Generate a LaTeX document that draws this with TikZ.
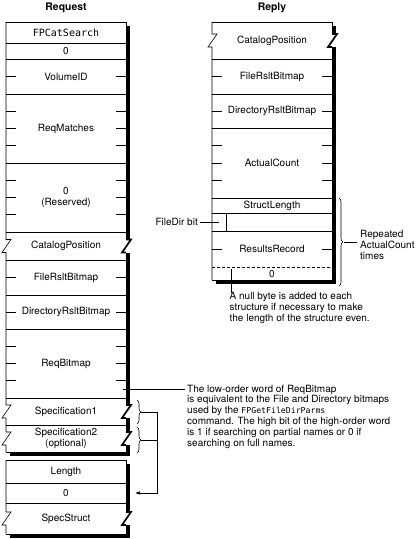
\documentclass[tikz,border=0pt]{standalone}
\usepackage{fontspec}
\setmainfont{TeX Gyre Heros}
\setmonofont{DejaVu Sans Mono}
\usetikzlibrary{decorations.pathreplacing,arrows.meta}
\begin{document}
\begin{tikzpicture}[x=1pt,y=-1pt,
  lbl/.style={inner sep=0pt, font=\fontsize{10}{12}\selectfont, align=center},
  two/.style={inner sep=0pt, font=\fontsize{10}{11.5}\selectfont, align=center},
  ttl/.style={inner sep=0pt, font=\fontsize{10.4}{12}\selectfont\bfseries},
  ann/.style={inner sep=0pt, font=\fontsize{10}{10.8}\selectfont, align=left},
  bx/.style={line width=0.6pt},
  shd/.style={fill=black},
  zz/.style={line width=1.7pt, line join=miter},
  tk/.style={line width=0.6pt},
  lead/.style={line width=0.6pt},
  brc/.style={line width=0.6pt, decorate, decoration={brace, amplitude=4pt}},
]
\useasboundingbox (0,0) rectangle (419,539);
\newcommand\mytick[3]{\draw[tk] (#1,#3) -- ++(10,0); \draw[tk] (#2,#3) -- ++(-10,0);}

% ---------- titles
\node[ttl] (treq) at (66,8) {Request};
\node[ttl] (trep) at (272,8) {Reply};

% ---------- left main box
\fill[shd] (126,26) rectangle (130,239.5);
\fill[shd] (126,252.5) rectangle (130,405);
\fill[shd] (126,418) rectangle (130,432);
\fill[shd] (126,445) rectangle (130,455.5);
\fill[shd] (10,452) rectangle (130,455.5);
\draw[bx] (6,22) -- (6,239.5) -- (11,239.5) -- (2,252.5) -- (6,252.5) -- (6,405) -- (11,405) -- (2,418) -- (6,418)
  -- (6,432) -- (11,432) -- (2,445) -- (6,445) -- (6,452);
\draw[bx] (126,22) -- (126,239.5);
\draw[bx] (126,252.5) -- (126,405);
\draw[bx] (126,418) -- (126,432);
\draw[bx] (126,445) -- (126,452);
\draw[zz] (126,239.5) -- (131,239.5) -- (122,252.5) -- (126,252.5);
\draw[zz] (126,405) -- (131,405) -- (122,418) -- (126,418);
\draw[zz] (126,432) -- (131,432) -- (122,445) -- (126,445);
\foreach \yy in {22,43,59,94,163,232,260,295,329,398,425,452} \draw[bx] (6,\yy) -- (126,\yy);
\foreach \yy in {76.5,111.25,128.5,145.75,180.25,197.5,214.75,277.5,312,346.25,363.5,380.75} {\mytick{6}{126}{\yy}}

\node[lbl, font=\fontsize{10}{12}\ttfamily] (cmd) at (66,32.5) {FPCatSearch};
\node[lbl] (pad) at (66,51.5) {0};
\node[lbl] (vol) at (66,76.5) {VolumeID};
\node[lbl] (rqm) at (66,128.5) {ReqMatches};
\node[two] (rsv) at (66,197.5) {0\\(Reserved)};
\node[lbl] (catq) at (66,246) {CatalogPosition};
\node[lbl] (frbq) at (66,277.5) {FileRsltBitmap};
\node[lbl] (drbq) at (66,312) {DirectoryRsltBitmap};
\node[lbl] (rqb) at (66,363.5) {ReqBitmap};
\node[lbl] (sp1) at (66,411.5) {Specification1};
\node[two] (sp2) at (66,438.5) {Specification2\\(optional)};

% ---------- lower left box
\fill[shd] (126,464) rectangle (130,512);
\fill[shd] (126,525) rectangle (130,537.5);
\fill[shd] (10,534) rectangle (130,537.5);
\draw[bx] (6,460) -- (6,512) -- (11,512) -- (2,525) -- (6,525) -- (6,534);
\draw[bx] (126,460) -- (126,512);
\draw[bx] (126,525) -- (126,534);
\draw[zz] (126,512) -- (131,512) -- (122,525) -- (126,525);
\foreach \yy in {460,483,503,534} \draw[bx] (6,\yy) -- (126,\yy);
\node[lbl] (len) at (66,471.5) {Length};
\node[lbl] (zr) at (66,493) {0};
\node[lbl] (ss) at (66,518.5) {SpecStruct};

% ---------- right box
\fill[shd] (332,26) rectangle (336,34);
\fill[shd] (332,47) rectangle (336,283.5);
\fill[shd] (216,280) rectangle (336,283.5);
\draw[bx] (212,22) -- (212,34) -- (217,34) -- (208,47) -- (212,47) -- (212,280);
\draw[bx] (332,22) -- (332,34);
\draw[bx] (332,47) -- (332,280);
\draw[zz] (332,34) -- (337,34) -- (328,47) -- (332,47);
\foreach \yy in {22,59,94,128,213,231,280} \draw[bx] (212,\yy) -- (332,\yy);
\draw[line width=1pt] (212,198) -- (332,198);
\draw[bx, dash pattern=on 3pt off 2pt] (212,267) -- (332,267);
\draw[bx] (226,213) -- (226,231);
\foreach \yy in {76.5,111,145.5,163,180.5,249} {\mytick{212}{332}{\yy}}

\node[lbl] (catp) at (272,40.5) {CatalogPosition};
\node[lbl] (frbp) at (272,76.5) {FileRsltBitmap};
\node[lbl] (drbp) at (272,111) {DirectoryRsltBitmap};
\node[lbl] (acnt) at (272,163) {ActualCount};
\node[lbl] (slen) at (272,205.5) {StructLength};
\node[lbl] (rrec) at (272,249) {ResultsRecord};
\node[lbl] (nul) at (272,274) {0};

% ---------- annotations
\node[lbl, anchor=east] (fdb) at (198,222) {FileDir bit};
\coordinate (fdbend) at (219,222);
\draw[lead] ([xshift=2pt]fdb.east) -- (fdbend);

\draw[brc] (339,198) -- (339,286);
\coordinate (rbtip) at (344,242);
\node[ann, anchor=west] (rep) at (360,245) {Repeated\\ActualCount\\times};
\draw[lead] (rbtip) -- ([xshift=-3pt]rep.west |- rbtip);

\coordinate (nbtop) at (231,269);
\node[ann, anchor=north west] (nb) at (229.5,292.5) {A null byte is added to each\\structure if necessary to make\\the length of the structure even.};
\draw[lead] (nbtop) -- (nbtop |- nb.north);

\coordinate (rqbA) at (123,389);
\node[ann, anchor=north west] (rqnote) at (187,384.5) {The low-order word of ReqBitmap\\is equivalent to the File and Directory bitmaps\\used by the {\fontsize{8.2}{10.8}\ttfamily FPGetFileDirParms}\\command. The high bit of the high-order word\\is 1 if searching on partial names or 0 if\\searching on full names.};
\draw[lead] (rqbA) -- ([xshift=-2pt]rqnote.west |- rqbA);

\draw[brc] (137,400) -- (137,424);
\draw[brc] (137,427) -- (137,453);
\coordinate (s1tip) at (141,412);
\coordinate (s2tip) at (141,440);
\coordinate (jn1) at (157,412);
\coordinate (jn2) at (157,440);
\coordinate (jn3) at (157,493);
\coordinate (arrend) at (135,493);
\draw[lead] (s2tip) -- (jn2);
\draw[lead, -{Latex[length=5pt,width=3.5pt]}] (s1tip) -- (jn1) -- (jn3) -- (arrend);
\end{tikzpicture}
\end{document}
